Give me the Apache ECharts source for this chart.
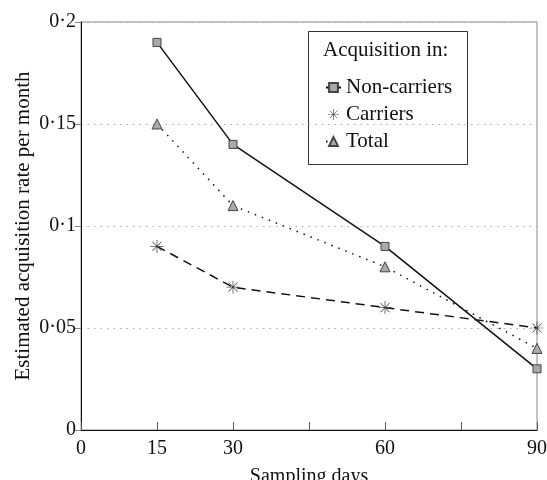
<!DOCTYPE html>
<html><head><meta charset="utf-8">
<script src="https://cdn.jsdelivr.net/npm/echarts@6/dist/echarts.min.js"></script>
<style>html,body{margin:0;padding:0;background:#fff}#c{width:547px;height:480px}</style>
</head><body><div id="c"></div>
<script>
const days = [15, 30, 60, 90];
const nonCarriers = [0.19, 0.14, 0.09, 0.03];
const carriers = [0.09, 0.07, 0.06, 0.05];
const total = [0.15, 0.11, 0.08, 0.04];
const xTickLabels = [0, 15, 30, 60, 90];
const seriesNames = ['Non-carriers', 'Carriers', 'Total'];

const FONT = '"Liberation Serif", "Times New Roman", serif';
const star = 'path://M-0.5,-9 L0.5,-9 L0.5,9 L-0.5,9 Z M-9,-0.5 L9,-0.5 L9,0.5 L-9,0.5 Z M-6.7,-6 L-6,-6.7 L6.7,6 L6,6.7 Z M6,-6.7 L6.7,-6 L-6,6.7 L-6.7,6 Z';
const pair = (arr) => days.map((d, i) => [d, arr[i]]);

const chart = echarts.init(document.getElementById('c'), null, {renderer: 'canvas'});
chart.setOption({
  animation: false,
  grid: {left: 81, right: 10, top: 22, bottom: 50, show: true, borderColor: '#888', borderWidth: 1,
         containLabel: false, outerBoundsMode: 'none'},
  xAxis: {
    type: 'value', min: 0, max: 90, interval: 15,
    name: 'Sampling days', nameLocation: 'middle', nameGap: 37, nameMoveOverlap: false,
    nameTextStyle: {fontFamily: FONT, fontSize: 20, color: '#111'},
    axisLine: {show: true, lineStyle: {color: '#111', width: 1}},
    axisTick: {show: true, inside: true, length: 8, lineStyle: {color: '#555'}},
    axisLabel: {fontFamily: FONT, fontSize: 20, color: '#111', margin: 9,
      formatter: v => xTickLabels.includes(v) ? String(v) : ''},
    splitLine: {show: false}
  },
  yAxis: {
    type: 'value', min: 0, max: 0.2, interval: 0.05,
    name: 'Estimated acquisition rate per month', nameLocation: 'middle', nameGap: 47, nameMoveOverlap: false,
    nameTextStyle: {fontFamily: FONT, fontSize: 21, color: '#111'},
    axisLine: {show: true, lineStyle: {color: '#111', width: 1}},
    axisTick: {show: true, inside: false, length: 6, lineStyle: {color: '#888'}},
    axisLabel: {fontFamily: FONT, fontSize: 20, color: '#111', margin: 5,
      formatter: v => v === 0 ? '0' : String(+v.toFixed(2)).replace('.', '·')},
    splitLine: {show: true, lineStyle: {color: '#aaa', type: [1.5, 5], width: 1}}
  },
  legend: {
    orient: 'vertical', left: 320, top: 72, itemGap: 6,
    itemWidth: 15, itemHeight: 11,
    textStyle: {fontFamily: FONT, fontSize: 21, color: '#111'},
    data: [seriesNames[0], {name: seriesNames[1], icon: star}, seriesNames[2]]
  },
  graphic: [
    {type: 'rect', left: 308, top: 31, shape: {width: 159, height: 133},
     style: {fill: '#fff', stroke: '#333', lineWidth: 1}, z: -1, silent: true},
    {type: 'text', left: 323, top: 40, z: 10,
     style: {text: 'Acquisition in:', font: '21px ' + FONT, fill: '#111'}}
  ],
  series: [
    {name: seriesNames[0], type: 'line', data: pair(nonCarriers), symbol: 'rect', symbolSize: 8,
     lineStyle: {color: '#111', width: 1.5, type: 'solid'},
     itemStyle: {color: '#aaa', borderColor: '#444', borderWidth: 1}, z: 3},
    {name: seriesNames[1], type: 'line', data: pair(carriers), symbol: star, symbolSize: 13,
     lineStyle: {color: '#111', width: 1.5, type: [9, 6]},
     itemStyle: {color: '#444', borderWidth: 0}, z: 3},
    {name: seriesNames[2], type: 'line', data: pair(total), symbol: 'triangle', symbolSize: 10,
     lineStyle: {color: '#111', width: 1.5, type: [1.5, 6]},
     itemStyle: {color: '#aaa', borderColor: '#444', borderWidth: 1}, z: 3}
  ]
});
</script></body></html>
